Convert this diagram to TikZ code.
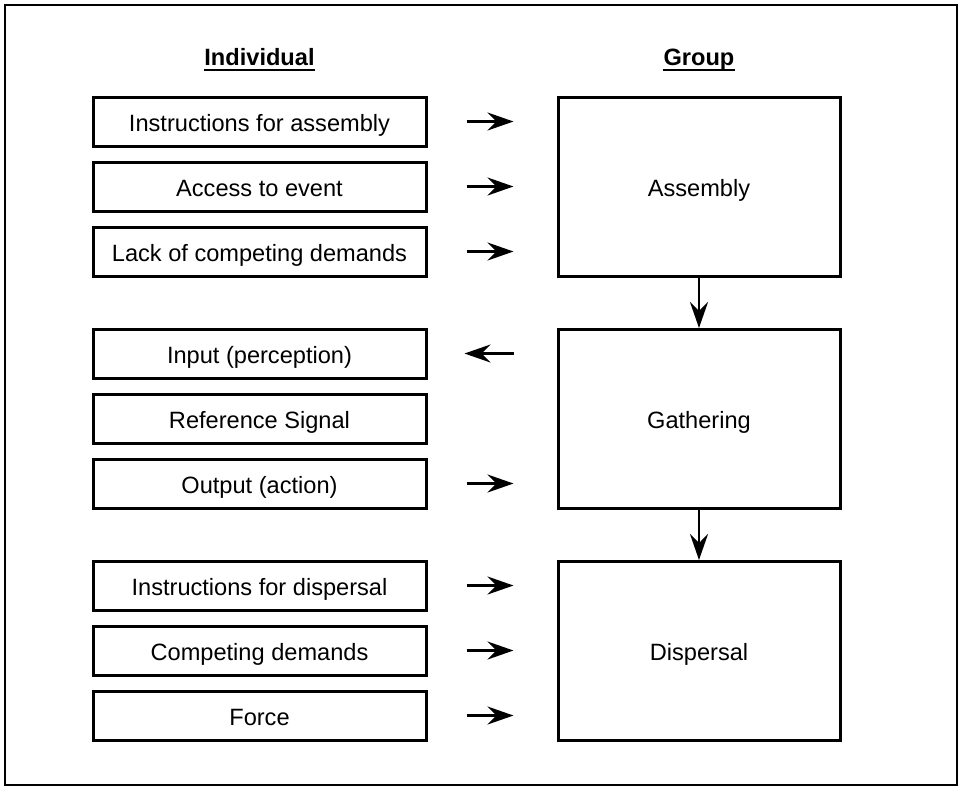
\documentclass[tikz,border=0pt]{standalone}
\usepackage{fontspec}
\setmainfont{Liberation Sans}
\usetikzlibrary{arrows.meta,calc}

\begin{document}
\begin{tikzpicture}[x=0.5pt,y=-0.5pt,
	factor/.style={draw,line width=1.5pt,minimum width=166.5pt,minimum height=24.5pt,inner sep=0pt,text height=9.6pt,text depth=0pt,font=\fontsize{11.8}{14}\selectfont},
	stage/.style={draw,line width=1.5pt,minimum width=141pt,minimum height=89.5pt,inner sep=0pt,text height=9pt,text depth=0pt,font=\fontsize{11.8}{14}\selectfont},
	colhead/.style={inner sep=0pt,anchor=base,font=\bfseries\fontsize{11.8}{14}\selectfont},
	arr/.style={line width=1.3pt,-{Stealth[length=13pt,width=9pt,inset=4.5pt]}}]
	\useasboundingbox (0,0) rectangle (959,789);
	\draw[line width=1.2pt] (5,5) rectangle (957,785);
	% column heads
	\node[colhead] (indiv) at (259.5,65) {Individual};
	\node[colhead] (group) at (699,65) {Group};
	\draw[line width=0.8pt] ([yshift=-2.6pt]indiv.base west) -- ([yshift=-2.6pt]indiv.base east);
	\draw[line width=0.8pt] ([yshift=-2.6pt]group.base west) -- ([yshift=-2.6pt]group.base east);
	% group stages
	\node[stage] (assembly) at (699,187) {Assembly};
	\node[stage] (gathering) at (699,419) {Gathering};
	\node[stage] (dispersal) at (699,651) {Dispersal};
	% individual factors
	\node[factor] (instrA) at (259.5,121.5) {Instructions for assembly};
	\node[factor] (access) at (259.5,186.5) {Access to event};
	\node[factor] (lack) at (259.5,251.5) {Lack of competing demands};
	\node[factor] (input) at (259.5,353.5) {Input (perception)};
	\node[factor] (refsig) at (259.5,418.5) {Reference Signal};
	\node[factor] (output) at (259.5,483.5) {Output (action)};
	\node[factor] (instrD) at (259.5,585.5) {Instructions for dispersal};
	\node[factor] (compete) at (259.5,650.5) {Competing demands};
	\node[factor] (force) at (259.5,715.5) {Force};
	% arrows between columns
	\foreach \f/\s in {instrA/assembly,access/assembly,lack/assembly,output/gathering,instrD/dispersal,compete/dispersal,force/dispersal}
		\draw[arr] ($(\f.east)+(39,0)$) -- ($(\f.east -| \s.west)+(-43,0)$);
	\draw[arr] ($(input.east -| gathering.west)+(-43,0)$) -- ($(input.east)+(37,0)$);
	\draw[arr] (assembly) -- (gathering);
	\draw[arr] (gathering) -- (dispersal);
\end{tikzpicture}
\end{document}
